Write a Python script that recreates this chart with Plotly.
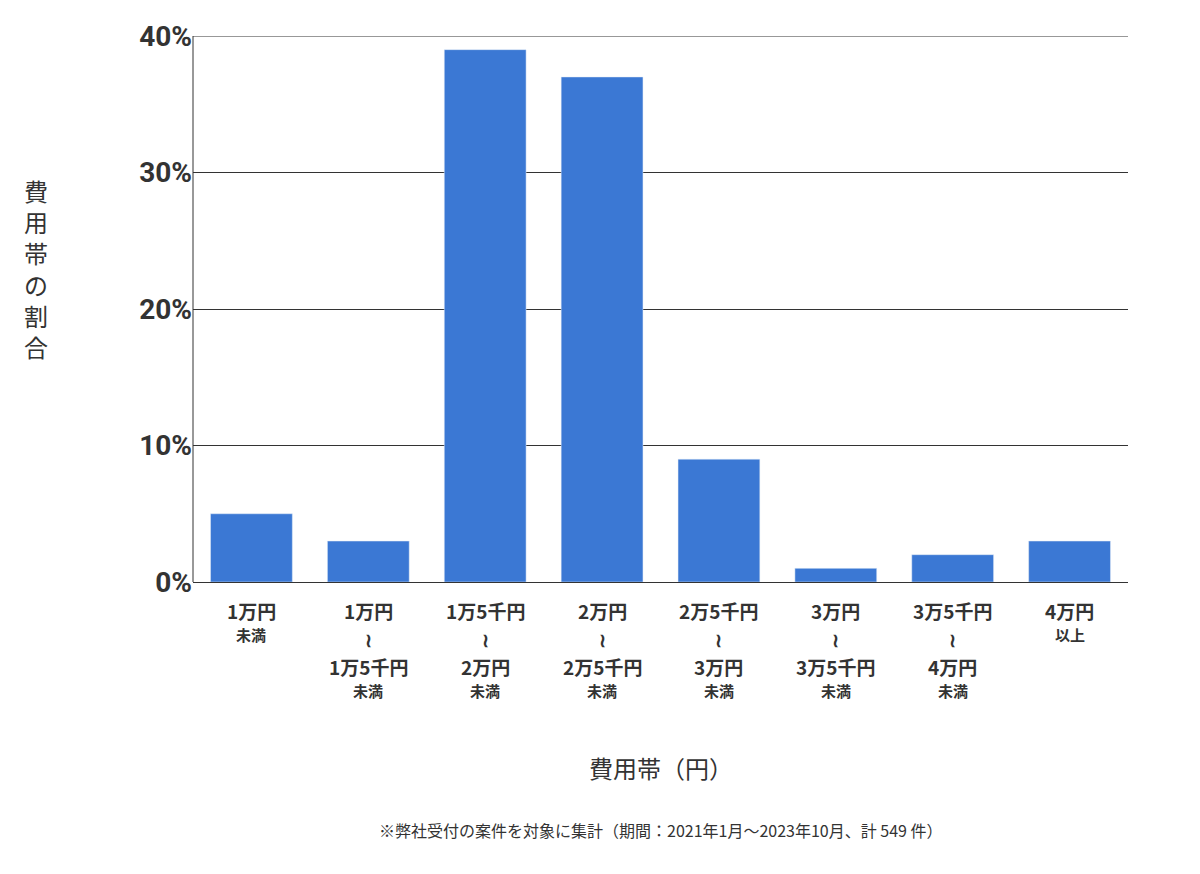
import plotly.graph_objects as go

categories = ["1万円未満", "1万円～1万5千円未満", "1万5千円～2万円未満", "2万円～2万5千円未満",
              "2万5千円～3万円未満", "3万円～3万5千円未満", "3万5千円～4万円未満", "4万円以上"]
shares = [5, 3, 39, 37, 9, 1, 2, 3]
# label lines under each bar
label_lines = [
    ["1万円", "未満"],
    ["1万円", "≀", "1万5千円", "未満"],
    ["1万5千円", "≀", "2万円", "未満"],
    ["2万円", "≀", "2万5千円", "未満"],
    ["2万5千円", "≀", "3万円", "未満"],
    ["3万円", "≀", "3万5千円", "未満"],
    ["3万5千円", "≀", "4万円", "未満"],
    ["4万円", "以上"],
]

fig = go.Figure()
fig.add_trace(go.Bar(x=categories, y=shares, marker_color="#3b78d4", width=0.7))

fig.update_layout(
    width=1200, height=874,
    margin=dict(l=185, r=80, t=26, b=300),
    plot_bgcolor="white", paper_bgcolor="white",
    font=dict(family="Noto Sans CJK JP", color="#333333"),
    showlegend=False,
)
fig.update_xaxes(showticklabels=False, showline=True, linecolor="#333333", ticks="")
fig.update_yaxes(range=[0, 40], tickvals=[0, 10, 20, 30, 40],
                 ticktext=["<b>%d%%</b>" % v for v in [0, 10, 20, 30, 40]],
                 showgrid=True, gridcolor="#333333", gridwidth=1, zeroline=False,
                 tickfont=dict(size=28, color="#333333", family="Roboto"))
fig.add_shape(type="line", xref="paper", yref="y", x0=0, x1=1, y0=40, y1=40,
              line=dict(color="#333333", width=1))
fig.add_shape(type="line", xref="paper", yref="paper", x0=0, x1=0, y0=0, y1=1,
              line=dict(color="#333333", width=1))

for cat, lines in zip(categories, label_lines):
    for i, line in enumerate(lines):
        small = line in ("未満", "以上")
        fig.add_annotation(text="<b>%s</b>" % line, x=cat, xref="x", yref="paper", y=0,
                           yshift=-28 - 28 * i + (4 if small else 0), showarrow=False,
                           yanchor="middle",
                           font=dict(size=15 if small else 19, color="#333333"))

fig.add_annotation(text="費<br>用<br>帯<br>の<br>割<br>合", xref="paper", yref="paper",
                   x=-0.168, y=0.575, showarrow=False, font=dict(size=24, color="#333333"),
                   xanchor="center", yanchor="middle")
fig.add_annotation(text="費用帯（円）", xref="paper", yref="paper", x=0.5, y=-0.34,
                   showarrow=False, font=dict(size=24, color="#333333"), yanchor="middle")
fig.add_annotation(text="※弊社受付の案件を対象に集計（期間：2021年1月～2023年10月、計 549 件）",
                   xref="paper", yref="paper", x=0.5, y=-0.455, showarrow=False,
                   font=dict(size=16, color="#333333"), yanchor="middle")

fig.write_html("out.html")
